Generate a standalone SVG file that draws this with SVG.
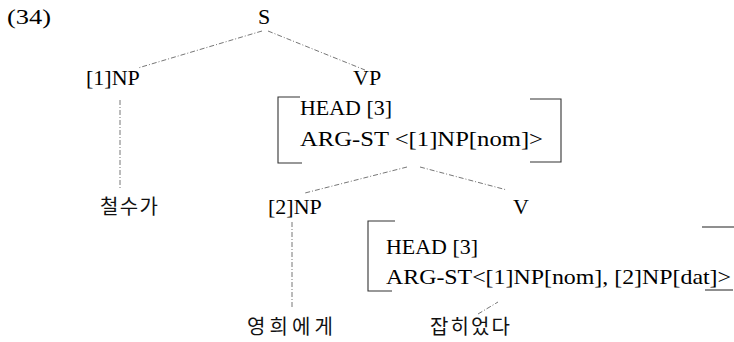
<svg xmlns="http://www.w3.org/2000/svg" width="734" height="342" viewBox="0 0 734 342">
  <style>
    .lat { font-family: "Liberation Serif", "Times New Roman", serif; font-size: 22px; fill: #000; }
    .kor { font-family: "Noto Sans CJK KR", "Noto Sans", sans-serif; font-size: 20px; fill: #111; }
    .edge { stroke: #666; stroke-width: 0.9; fill: none; stroke-dasharray: 5 2 1 2; }
    .brk { stroke: #333; stroke-width: 1.1; fill: none; }
  </style>
  <rect width="734" height="342" fill="#fff"/>

  <!-- example number -->
  <g id="label-34">
    <text class="lat" x="7" y="24" textLength="44" lengthAdjust="spacingAndGlyphs">(34)</text>
  </g>

  <!-- tree edges -->
  <g id="connectors">
    <line class="edge" x1="262" y1="31" x2="138" y2="68"/>
    <line class="edge" x1="268" y1="31" x2="365" y2="70"/>
    <line class="edge" x1="120" y1="100" x2="120" y2="190"/>
    <line class="edge" x1="407" y1="167" x2="305" y2="193"/>
    <line class="edge" x1="420" y1="167" x2="507" y2="190"/>
    <line class="edge" x1="292" y1="222" x2="292" y2="307"/>
    <line class="edge" x1="478" y1="314" x2="498" y2="302"/>
  </g>

  <g id="node-S">
    <text class="lat" x="264" y="24" text-anchor="middle">S</text>
  </g>

  <g id="node-NP1">
    <text class="lat" x="86" y="85">[1]NP</text>
  </g>

  <g id="node-VP">
    <text class="lat" x="353" y="85">VP</text>
    <path class="brk" d="M300,97 H278 V163 H302"/>
    <path class="brk" d="M530,99 H561 V162 H530"/>
    <text class="lat" x="300" y="115" textLength="92" lengthAdjust="spacingAndGlyphs">HEAD [3]</text>
    <text class="lat" x="300" y="146" textLength="243" lengthAdjust="spacingAndGlyphs">ARG-ST &lt;[1]NP[nom]&gt;</text>
  </g>

  <g id="node-chulsuga">
    <text class="kor" x="100" y="214" textLength="58">철수가</text>
  </g>

  <g id="node-NP2">
    <text class="lat" x="268" y="214">[2]NP</text>
  </g>

  <g id="node-V">
    <text class="lat" x="513" y="214">V</text>
    <path class="brk" d="M395,221 H368 V291 H392"/>
    <line class="brk" x1="702" y1="227" x2="734" y2="227"/>
    <line class="brk" x1="705" y1="290" x2="733" y2="290"/>
    <text class="lat" x="386" y="254" textLength="92" lengthAdjust="spacingAndGlyphs">HEAD [3]</text>
    <text class="lat" x="386" y="284" textLength="345" lengthAdjust="spacingAndGlyphs">ARG-ST&lt;[1]NP[nom], [2]NP[dat]&gt;</text>
  </g>

  <g id="node-younghi">
    <text class="kor" x="247" y="334" textLength="86">영희에게</text>
  </g>

  <g id="node-japhi">
    <text class="kor" x="430" y="334" textLength="80">잡히었다</text>
  </g>
</svg>
